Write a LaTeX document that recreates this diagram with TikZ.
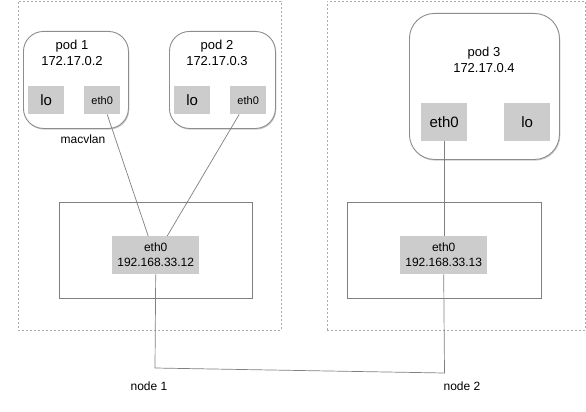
\documentclass[tikz,border=0pt]{standalone}
\usepackage{fontspec}
\setmainfont{Liberation Sans}
\usetikzlibrary{shadows,calc}
\definecolor{boxgray}{HTML}{CCCCCC}
\definecolor{linegray}{HTML}{808080}
\definecolor{dotgray}{HTML}{AAAAAA}
\tikzset{
  host/.style={draw=dotgray, dashed, dash pattern=on 2pt off 2pt, line width=0.6pt, inner sep=0, anchor=north west},
  pod/.style={draw=linegray!90, line width=0.9pt, rounded corners=20pt, fill=white, inner sep=0, anchor=north west,
     drop shadow={shadow xshift=0.8pt, shadow yshift=-1.2pt, opacity=0.35, fill=black!60}},
  nodebox/.style={draw=linegray, line width=0.8pt, inner sep=0, anchor=north west},
  iface/.style={fill=boxgray, inner sep=0, anchor=north west, align=center},
  wire/.style={draw=linegray, line width=0.7pt},
  lbl/.style={inner sep=0, align=center},
}
\begin{document}
\begin{tikzpicture}[x=1pt,y=-1pt]
\useasboundingbox (0,0) rectangle (586,412);
\fill[white] (0,0) rectangle (586,412);
% hosts
\node[host, minimum width=263pt, minimum height=329pt] (h1) at (18,1) {};
\node[host, minimum width=258pt, minimum height=329pt] (h2) at (327,1) {};
% pods
\node[pod, minimum width=105pt, minimum height=97pt] (p1) at (23,31) {};
\node[pod, minimum width=106pt, minimum height=97pt] (p2) at (169,31) {};
\node[pod, minimum width=150pt, minimum height=146pt, rounded corners=25pt] (p3) at (409,13) {};
\node[lbl, font=\fontsize{13}{15.5}\selectfont] (t1) at (72,53) {pod 1\\172.17.0.2};
\node[lbl, font=\fontsize{13}{15.5}\selectfont] (t2) at (217,53) {pod 2\\172.17.0.3};
\node[lbl, font=\fontsize{13}{15.5}\selectfont] (t3) at (484,60) {pod 3\\172.17.0.4};
% pod interfaces
\node[iface, minimum width=36pt, minimum height=28pt, font=\fontsize{15}{18}\selectfont] (p1l) at (28,86) {lo};
\node[iface, minimum width=36pt, minimum height=28pt, font=\fontsize{11}{13}\selectfont] (p1e) at (84,86) {eth0};
\node[iface, minimum width=36pt, minimum height=28pt, font=\fontsize{15}{18}\selectfont] (p2l) at (174,86) {lo};
\node[iface, minimum width=36pt, minimum height=28pt, font=\fontsize{11}{13}\selectfont] (p2e) at (230,86) {eth0};
\node[iface, minimum width=46pt, minimum height=38pt, font=\fontsize{15}{18}\selectfont] (p3e) at (421,103) {eth0};
\node[iface, minimum width=46pt, minimum height=38pt, font=\fontsize{15}{18}\selectfont] (p3l) at (504,103) {lo};
\node[lbl, font=\fontsize{12}{14}\selectfont] (mac) at (83,139) {macvlan};
% node boxes
\node[nodebox, minimum width=193pt, minimum height=96pt] (n1) at (59,202) {};
\node[nodebox, minimum width=194pt, minimum height=96pt] (n2) at (347,202) {};
\node[iface, minimum width=87pt, minimum height=38pt, font=\fontsize{12}{15}\selectfont] (n1e) at (112,236) {eth0\\192.168.33.12};
\node[iface, minimum width=87pt, minimum height=38pt, font=\fontsize{12}{15}\selectfont] (n2e) at (400,236) {eth0\\192.168.33.13};
\node[lbl, font=\fontsize{12}{14}\selectfont] (l1) at (149,386) {node 1};
\node[lbl, font=\fontsize{12}{14}\selectfont] (l2) at (462,386) {node 2};
% wires
\coordinate (c1) at (155,368);
\coordinate (c2) at (444.5,373);
\draw[wire] ($(p1e.south)+(5,0)$) -- ($(n1e.north)+(-7.5,0)$);
\draw[wire] ($(p2e.south)+(-9,0)$) -- ($(n1e.north)+(11.5,0)$);
\draw[wire] (p3e.south) -- (p3e.south |- n2e.north);
\draw[wire] (n1e.south) -- (c1) -- (c2) -- (n2e.south);
\end{tikzpicture}
\end{document}
